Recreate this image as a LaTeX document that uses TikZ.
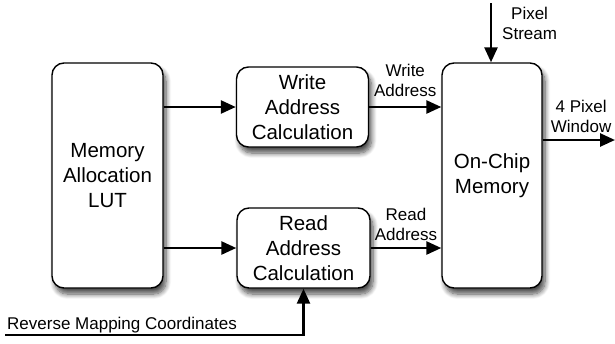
\documentclass[tikz,border=0pt]{standalone}
\usepackage{fontspec}
\setmainfont{Liberation Sans}
\usetikzlibrary{positioning, arrows.meta, shadows.blur}

\tikzset{
  block/.style={draw, line width=1.4pt, rounded corners=12pt, fill=white,
    align=center, font=\fontsize{20.5}{25}\selectfont, inner sep=0pt,
    blur shadow={shadow xshift=3pt, shadow yshift=-6pt, shadow blur steps=8,
      shadow blur radius=5pt, shadow opacity=70}},
  flow/.style={line width=2.6pt, -{Triangle[length=15pt, width=13pt]}},
  tag/.style={font=\fontsize{17}{20}\selectfont, align=center, inner sep=2pt}
}

\begin{document}
\begin{tikzpicture}[x=1pt, y=-1pt, node distance=1pt, on grid]
  \useasboundingbox (0,0) rectangle (615,343);

  % blocks
  \node[block, minimum width=111pt, minimum height=225pt] (lut) at (107.5,175.5)
    {Memory\\Allocation\\LUT};
  \node[block, minimum width=132pt, minimum height=80pt] (wcalc)
    [above right=68.5pt and 195pt of lut] {Write\\Address\\Calculation};
  \node[block, minimum width=133pt, minimum height=80pt] (rcalc)
    [below right=72.5pt and 196pt of lut] {Read\\Address\\Calculation};
  \node[block, minimum width=100pt, minimum height=225pt] (chip)
    [right=384.5pt of lut] {On-Chip\\Memory};

  % loose ends
  \coordinate (pin) at (491,3);
  \coordinate (pout) at (615,140);
  \coordinate (rmc) at (5,335);

  % connections
  \draw[flow] (lut.east |- wcalc.west) -- (wcalc.west);
  \draw[flow] (lut.east |- rcalc.west) -- (rcalc.west);
  \draw[flow] (wcalc.east) -- node[tag, above, yshift=7pt] {Write\\Address} (wcalc.east -| chip.west);
  \draw[flow] (rcalc.east) -- node[tag, above, yshift=4pt] {Read\\Address} (rcalc.east -| chip.west);
  \draw[flow] (pin) -- (pin |- chip.north);
  \node[tag, anchor=north west, xshift=9pt, yshift=-2pt] at (pin) {Pixel\\Stream};
  \draw[flow] (chip.east |- pout) -- (pout);
  \node[tag, anchor=south west, xshift=6pt, yshift=5pt] at (chip.east |- pout) {4 Pixel\\Window};
  \draw[flow] (rmc) -- (rmc -| rcalc.south) -- (rcalc.south);
  \node[tag, anchor=south west] at (rmc) {Reverse Mapping Coordinates};
\end{tikzpicture}
\end{document}
